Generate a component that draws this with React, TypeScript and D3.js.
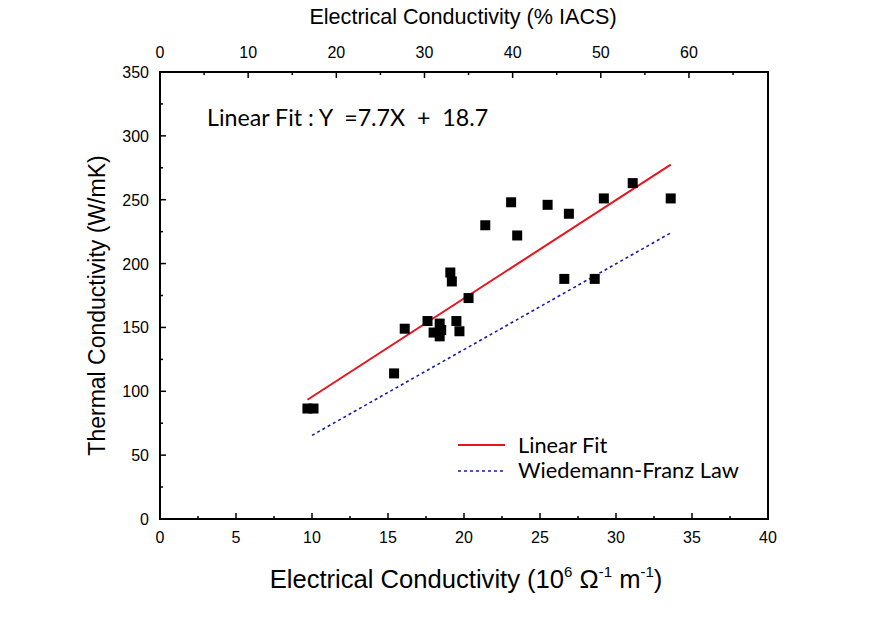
import React from "react";
import * as d3 from "d3";

const W = 893;
const H = 622;

// Measured samples: electrical conductivity (10^6 S/m) vs thermal conductivity (W/mK)
const sigma = [9.7, 10.1, 15.4, 16.1, 17.6, 18.0, 18.4, 18.4, 18.5, 19.1, 19.2, 19.5, 19.7, 20.3, 21.4, 23.1, 23.5, 25.5, 26.6, 26.9, 28.6, 29.2, 31.1, 33.6];
const kappa = [86.5, 86.5, 114, 149, 155, 146, 143, 153, 148, 193, 186, 155, 147, 173, 230, 248, 222, 246, 188, 239, 188, 251, 263, 251];

// Linear fit endpoints Y = 7.7X + 18.7
const fitX = [9.7, 33.6];
const fitSlope = 7.7;
const fitIntercept = 18.7;

// Wiedemann-Franz law line
const wfX = [10.0, 33.6];
const wfY = [65.5, 224];

const xTicksMajor = [0, 5, 10, 15, 20, 25, 30, 35, 40];
const yTicksMajor = [0, 50, 100, 150, 200, 250, 300, 350];
const topTicksMajor = [0, 10, 20, 30, 40, 50, 60];
const IACS_FACTOR = 0.58; // 1 %IACS = 0.58 x10^6 S/m

const margin = { left: 160, right: W - 768, top: 72, bottom: H - 519 };

export default function App() {
  const x = d3.scaleLinear().domain([0, 40]).range([margin.left, W - margin.right]);
  const y = d3.scaleLinear().domain([0, 350]).range([H - margin.bottom, margin.top]);
  const xTop = d3.scaleLinear().domain([0, 40 / IACS_FACTOR]).range([margin.left, W - margin.right]);

  const x0 = x(0), x1 = x(40), y0 = y(0), y1 = y(350);

  const xMinor = d3.range(2.5, 40, 5);
  const yMinor = d3.range(25, 350, 50);
  const topMinor = d3.range(5, 40 / IACS_FACTOR, 10);

  const line = d3.line<[number, number]>().x(d => x(d[0])).y(d => y(d[1]));
  const fitPts: [number, number][] = fitX.map(v => [v, fitSlope * v + fitIntercept]);
  const wfPts: [number, number][] = wfX.map((v, i) => [v, wfY[i]]);

  const tickFont = "'Liberation Sans', Arial, sans-serif";
  const calFont = "Lato, 'Open Sans', sans-serif";
  const sq = 10;

  return (
    <svg width={W} height={H} style={{ position: "absolute", left: 0, top: 0, background: "#fff" }}>
      <rect x={0} y={0} width={W} height={H} fill="#fff" />
      {/* lines */}
      <path d={line(wfPts) || ""} stroke="#1a1aa8" strokeWidth={1.6} strokeDasharray="3,3" fill="none" />
      <path d={line(fitPts) || ""} stroke="#e8141c" strokeWidth={2} fill="none" />
      {/* points */}
      {sigma.map((s, i) => (
        <rect key={i} x={x(s) - sq / 2} y={y(kappa[i]) - sq / 2} width={sq} height={sq} fill="#000" />
      ))}
      {/* frame */}
      <rect x={x0} y={y1} width={x1 - x0} height={y0 - y1} fill="none" stroke="#000" strokeWidth={2} />
      {/* bottom ticks */}
      {xTicksMajor.map(t => (
        <g key={"bx" + t}>
          <line x1={x(t)} x2={x(t)} y1={y0} y2={y0 - 6} stroke="#000" strokeWidth={1.5} />
          <text x={x(t)} y={y0 + 24} textAnchor="middle" fontFamily={tickFont} fontSize={16} fill="#000">{t}</text>
        </g>
      ))}
      {xMinor.map(t => (
        <line key={"bm" + t} x1={x(t)} x2={x(t)} y1={y0} y2={y0 - 3} stroke="#000" strokeWidth={1.5} />
      ))}
      {/* left ticks */}
      {yTicksMajor.map(t => (
        <g key={"ly" + t}>
          <line x1={x0} x2={x0 + 6} y1={y(t)} y2={y(t)} stroke="#000" strokeWidth={1.5} />
          <text x={x0 - 11} y={y(t) + 6} textAnchor="end" fontFamily={tickFont} fontSize={16} fill="#000">{t}</text>
        </g>
      ))}
      {yMinor.map(t => (
        <line key={"lm" + t} x1={x0} x2={x0 + 3} y1={y(t)} y2={y(t)} stroke="#000" strokeWidth={1.5} />
      ))}
      {/* top ticks */}
      {topTicksMajor.map(t => (
        <g key={"tx" + t}>
          <line x1={xTop(t)} x2={xTop(t)} y1={y1} y2={y1 + 6} stroke="#000" strokeWidth={1.5} />
          <text x={xTop(t)} y={y1 - 14} textAnchor="middle" fontFamily={tickFont} fontSize={16} fill="#000">{t}</text>
        </g>
      ))}
      {topMinor.map(t => (
        <line key={"tm" + t} x1={xTop(t)} x2={xTop(t)} y1={y1} y2={y1 + 3} stroke="#000" strokeWidth={1.5} />
      ))}
      {/* axis titles */}
      <text x={463} y={24} textAnchor="middle" fontFamily={tickFont} fontSize={21.6} fill="#000">Electrical Conductivity (% IACS)</text>
      <text x={466} y={588} textAnchor="middle" fontFamily={tickFont} fontSize={25.6} fill="#000">
        Electrical Conductivity (10
        <tspan fontSize={15} dy={-11}>6</tspan>
        <tspan dy={11}> Ω</tspan>
        <tspan fontSize={15} dy={-11}>-1</tspan>
        <tspan dy={11}> m</tspan>
        <tspan fontSize={15} dy={-11}>-1</tspan>
        <tspan dy={11}>)</tspan>
      </text>
      <text transform={`translate(105, ${(y0 + y1) / 2 + 10}) rotate(-90)`} textAnchor="middle" fontFamily={tickFont} fontSize={23} fill="#000">
        Thermal Conductivity (W/mK)
      </text>
      {/* annotation */}
      <text x={207} y={126} fontFamily={calFont} fontSize={23.2} fill="#000" style={{ whiteSpace: "pre" }}>{"Linear Fit : Y  =7.7X  +  18.7"}</text>
      {/* legend */}
      <line x1={458} x2={505} y1={445} y2={445} stroke="#e8141c" strokeWidth={2} />
      <text x={518} y={453} fontFamily={calFont} fontSize={21.8} fill="#000">Linear Fit</text>
      <line x1={458} x2={505} y1={471} y2={471} stroke="#1a1aa8" strokeWidth={1.6} strokeDasharray="3,3" />
      <text x={518} y={478} fontFamily={calFont} fontSize={21.8} fill="#000">Wiedemann-Franz Law</text>
    </svg>
  );
}
